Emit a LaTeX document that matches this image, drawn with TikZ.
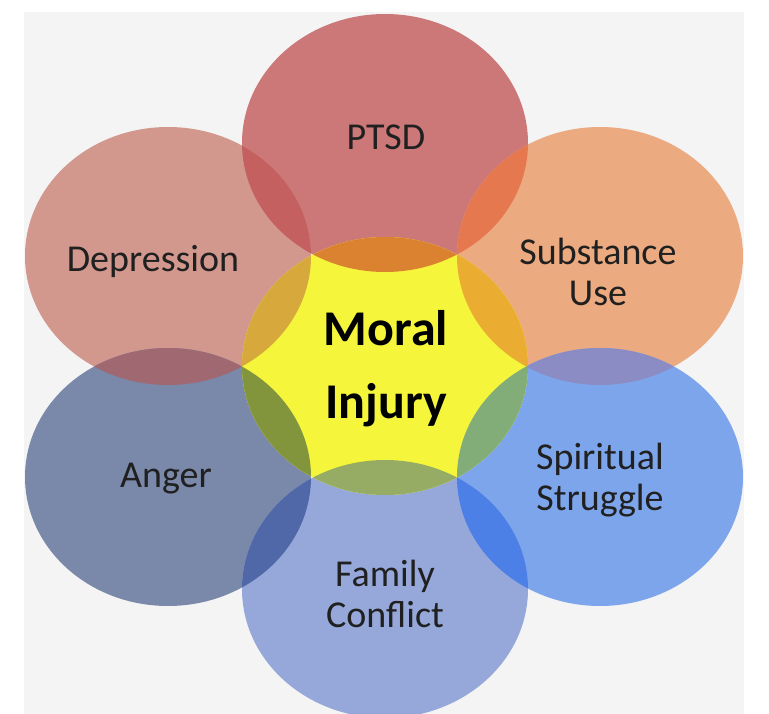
\documentclass[tikz,border=0pt]{standalone}
\usepackage{fontspec}
\setmainfont{Carlito}
\usetikzlibrary{shapes.geometric}
\definecolor{panel}{HTML}{F4F4F4}
\definecolor{cPT}{HTML}{CC7878}
\definecolor{cDE}{HTML}{D2988E}
\definecolor{cSU}{HTML}{ECAA80}
\definecolor{cAN}{HTML}{7A88AA}
\definecolor{cSS}{HTML}{7DA5EC}
\definecolor{cFC}{HTML}{96A8DA}
\definecolor{cMI}{HTML}{F5F53C}
\definecolor{lPTDE}{HTML}{C46060}
\definecolor{lPTSU}{HTML}{E67850}
\definecolor{lDEAN}{HTML}{A06870}
\definecolor{lSUSS}{HTML}{8C8CC4}
\definecolor{lANFC}{HTML}{5068A8}
\definecolor{lSSFC}{HTML}{4C80E6}
\definecolor{yPT}{HTML}{DA8230}
\definecolor{ySU}{HTML}{EBAC32}
\definecolor{ySS}{HTML}{82AC78}
\definecolor{yFC}{HTML}{96AC64}
\definecolor{yAN}{HTML}{82943C}
\definecolor{yDE}{HTML}{D7A83C}
\definecolor{txt}{HTML}{202020}
\newcommand\myellipse[1]{(#1) ellipse [x radius=143pt, y radius=129pt]}
\newcommand\mylens[3]{\begin{scope}\clip \myellipse{#1};\fill[#3] \myellipse{#2};\end{scope}}
\begin{document}
\begin{tikzpicture}[x=1pt,y=-1pt,
  lbl/.style={font=\fontsize{38}{41}\selectfont, text=txt, align=center, inner sep=0pt},
  big/.style={font=\fontsize{50}{73}\selectfont\bfseries, text=black, align=center, inner sep=0pt}]
\useasboundingbox (0,0) rectangle (769,714);
\fill[white] (0,0) rectangle (769,714);
\fill[panel] (24,12) rectangle (744,714);
\coordinate (cMI) at (385,366);
\coordinate (cPT) at (385,143);
\coordinate (cSU) at (600,256);
\coordinate (cSS) at (600,477);
\coordinate (cFC) at (385,589);
\coordinate (cAN) at (168,477);
\coordinate (cDE) at (168,256);
\begin{scope}
\clip (24,12) rectangle (744,714);
\foreach \c in {cPT,cDE,cSU,cAN,cSS,cFC,cMI} {\fill[\c] \myellipse{\c};}
\mylens{cPT}{cDE}{lPTDE}
\mylens{cPT}{cSU}{lPTSU}
\mylens{cDE}{cAN}{lDEAN}
\mylens{cSU}{cSS}{lSUSS}
\mylens{cAN}{cFC}{lANFC}
\mylens{cSS}{cFC}{lSSFC}
\mylens{cMI}{cPT}{yPT}
\mylens{cMI}{cSU}{ySU}
\mylens{cMI}{cSS}{ySS}
\mylens{cMI}{cFC}{yFC}
\mylens{cMI}{cAN}{yAN}
\mylens{cMI}{cDE}{yDE}
\end{scope}
\node[lbl] (tPT) at (386,137) {PTSD};
\node[lbl] (tDE) at (153,261) {Depression};
\node[lbl] (tSU) at (598,272) {Substance\\Use};
\node[big] (tMI) at (386,369) {Moral\\Injury};
\node[lbl] (tAN) at (166,479) {Anger};
\node[lbl] (tSS) at (600,480) {Spiritual\\Struggle};
\node[lbl] (tFC) at (385,594) {Family\\Conflict};
\end{tikzpicture}
\end{document}
